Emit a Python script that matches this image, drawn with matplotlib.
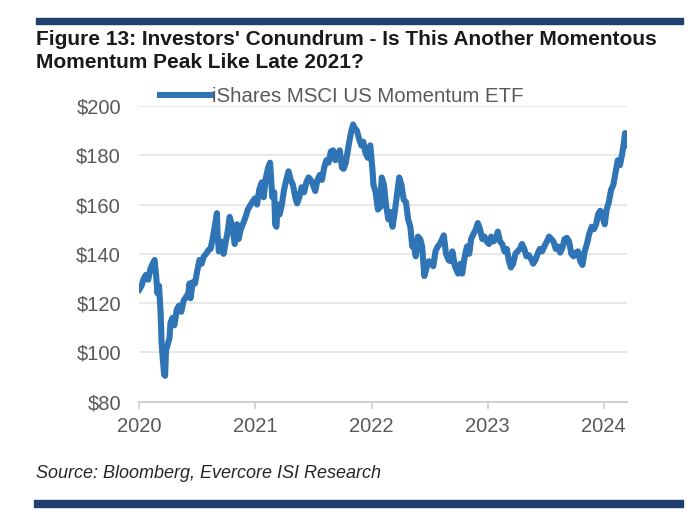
import matplotlib
matplotlib.use("Agg")
import matplotlib.pyplot as plt
from matplotlib.patches import Rectangle
import pandas as pd

plt.rcParams['font.family'] = ['Liberation Sans', 'DejaVu Sans']

title_lines = ["Figure 13: Investors' Conundrum - Is This Another Momentous",
               "Momentum Peak Like Late 2021?"]
series_name = "iShares MSCI US Momentum ETF"
source_text = "Source: Bloomberg, Evercore ISI Research"

dates = [
    # 2020
    "2020-01-02", "2020-01-09", "2020-01-16", "2020-01-23", "2020-01-30", "2020-02-06", "2020-02-13",
    "2020-02-19", "2020-02-24", "2020-02-28", "2020-03-04", "2020-03-09", "2020-03-12", "2020-03-16",
    "2020-03-20", "2020-03-23", "2020-03-26", "2020-03-31", "2020-04-06", "2020-04-09", "2020-04-15",
    "2020-04-21", "2020-04-29", "2020-05-06", "2020-05-13", "2020-05-20", "2020-05-28", "2020-06-04",
    "2020-06-08", "2020-06-11", "2020-06-18", "2020-06-25", "2020-07-02", "2020-07-09", "2020-07-16",
    "2020-07-23", "2020-07-30", "2020-08-06", "2020-08-13", "2020-08-20", "2020-08-27", "2020-09-02",
    "2020-09-04", "2020-09-08", "2020-09-15", "2020-09-23", "2020-09-30", "2020-10-07", "2020-10-12",
    "2020-10-20", "2020-10-28", "2020-11-04", "2020-11-09", "2020-11-16", "2020-11-24", "2020-12-01",
    "2020-12-08", "2020-12-15", "2020-12-22", "2020-12-30",
    # 2021
    "2021-01-06", "2021-01-13", "2021-01-21", "2021-01-27", "2021-02-03", "2021-02-10", "2021-02-16",
    "2021-02-23", "2021-03-01", "2021-03-04", "2021-03-08", "2021-03-12", "2021-03-18", "2021-03-25",
    "2021-04-01", "2021-04-08", "2021-04-15", "2021-04-22", "2021-04-29", "2021-05-06", "2021-05-12",
    "2021-05-19", "2021-05-26", "2021-06-03", "2021-06-10", "2021-06-17", "2021-06-24", "2021-07-01",
    "2021-07-08", "2021-07-15", "2021-07-22", "2021-07-29", "2021-08-05", "2021-08-12", "2021-08-19",
    "2021-08-26", "2021-09-02", "2021-09-09", "2021-09-16", "2021-09-23", "2021-09-30", "2021-10-05",
    "2021-10-12", "2021-10-21", "2021-10-28", "2021-11-04", "2021-11-09", "2021-11-16", "2021-11-22",
    "2021-11-30", "2021-12-06", "2021-12-13", "2021-12-20", "2021-12-28",
    # 2022
    "2022-01-04", "2022-01-07", "2022-01-14", "2022-01-21", "2022-01-28", "2022-02-02", "2022-02-09",
    "2022-02-15", "2022-02-23", "2022-03-01", "2022-03-08", "2022-03-15", "2022-03-22", "2022-03-29",
    "2022-04-05", "2022-04-12", "2022-04-19", "2022-04-26", "2022-05-03", "2022-05-09", "2022-05-13",
    "2022-05-20", "2022-05-27", "2022-06-03", "2022-06-09", "2022-06-16", "2022-06-22", "2022-06-30",
    "2022-07-07", "2022-07-14", "2022-07-21", "2022-07-28", "2022-08-04", "2022-08-11", "2022-08-16",
    "2022-08-23", "2022-08-31", "2022-09-07", "2022-09-12", "2022-09-20", "2022-09-30", "2022-10-07",
    "2022-10-13", "2022-10-21", "2022-10-28", "2022-11-04", "2022-11-10", "2022-11-17", "2022-11-25",
    "2022-12-01", "2022-12-08", "2022-12-15", "2022-12-22", "2022-12-29",
    # 2023
    "2023-01-05", "2023-01-12", "2023-01-19", "2023-01-26", "2023-02-02", "2023-02-09", "2023-02-16",
    "2023-02-23", "2023-03-02", "2023-03-09", "2023-03-15", "2023-03-22", "2023-03-29", "2023-04-05",
    "2023-04-12", "2023-04-19", "2023-04-26", "2023-05-03", "2023-05-10", "2023-05-17", "2023-05-24",
    "2023-05-31", "2023-06-07", "2023-06-14", "2023-06-21", "2023-06-28", "2023-07-06", "2023-07-13",
    "2023-07-20", "2023-07-27", "2023-08-03", "2023-08-10", "2023-08-17", "2023-08-24", "2023-08-31",
    "2023-09-07", "2023-09-14", "2023-09-21", "2023-09-28", "2023-10-05", "2023-10-12", "2023-10-19",
    "2023-10-26", "2023-11-02", "2023-11-09", "2023-11-16", "2023-11-24", "2023-12-01", "2023-12-08",
    "2023-12-14", "2023-12-21", "2023-12-28",
    # 2024
    "2024-01-04", "2024-01-10", "2024-01-17", "2024-01-24", "2024-01-31", "2024-02-07", "2024-02-14",
    "2024-02-21", "2024-02-27", "2024-03-04", "2024-03-08", "2024-03-12", "2024-03-14",
]

prices = [
    # 2020
    125.5, 127.0, 130.0, 131.5, 129.5, 134.0, 136.0,
    137.5, 131.0, 124.0, 127.0, 116.0, 104.0, 97.0,
    91.0, 90.5, 101.0, 103.0, 106.0, 112.0, 114.0,
    111.0, 117.5, 119.0, 116.5, 121.0, 122.5, 124.0,
    128.0, 122.0, 128.5, 128.0, 133.0, 137.5, 136.0,
    139.0, 140.0, 141.5, 142.0, 146.5, 152.0, 156.5,
    148.0, 141.0, 145.0, 140.0, 145.0, 150.0, 155.0,
    151.0, 144.0, 152.0, 146.0, 150.0, 152.5, 155.0,
    158.0, 159.5, 161.0, 162.5,
    # 2021
    160.0, 166.0, 169.0, 163.0, 171.0, 175.0, 177.0,
    163.0, 165.0, 152.0, 151.0, 160.0, 156.0, 160.0,
    166.0, 170.0, 173.5, 170.0, 168.0, 163.0, 160.5,
    163.0, 167.0, 165.0, 169.0, 171.0, 170.0, 168.0,
    165.5, 170.0, 172.0, 170.0, 175.0, 178.0, 177.0,
    181.5, 182.0, 178.0, 180.0, 182.0, 175.0, 174.5,
    177.0, 184.0, 189.0, 192.5, 191.0, 190.0, 187.0,
    184.0, 185.5, 181.0, 179.0, 184.0,
    # 2022
    174.0, 168.0, 165.0, 158.0, 159.0, 171.0, 168.0,
    160.0, 154.0, 157.0, 151.0, 157.0, 164.0, 171.0,
    168.0, 162.0, 161.0, 154.0, 151.0, 143.0, 144.0,
    139.0, 147.0, 146.0, 143.0, 131.0, 134.0, 137.0,
    136.0, 135.0, 141.0, 143.0, 144.0, 146.0, 147.5,
    140.0, 137.5, 137.0, 141.0, 135.0, 132.0, 136.0,
    132.0, 139.0, 143.0, 140.0, 146.0, 148.0, 150.0,
    152.5, 150.0, 146.0, 147.0, 145.0,
    # 2023
    144.0, 147.0, 145.0, 146.0, 149.0, 145.0, 144.0,
    141.0, 142.0, 137.0, 134.5, 136.0, 140.0, 141.0,
    142.0, 144.0, 142.0, 139.0, 139.5, 138.0, 136.0,
    137.5, 140.0, 142.0, 141.0, 143.0, 145.0, 147.0,
    146.0, 145.0, 142.0, 143.0, 140.5, 142.5, 146.0,
    146.5, 145.0, 140.0, 139.0, 140.5, 141.0, 137.0,
    135.5, 141.0, 144.0, 148.0, 151.0, 150.0, 152.0,
    156.0, 157.5, 155.0,
    # 2024
    152.0, 158.0, 161.0, 166.0, 168.0, 173.0, 178.0,
    176.0, 180.0, 185.0, 189.0, 186.0, 184.0,
]

year_ticks = [2020, 2021, 2022, 2023, 2024]
y_ticks = [80, 100, 120, 140, 160, 180, 200]

x = pd.to_datetime(dates)

fig = plt.figure(figsize=(7, 5.25), dpi=100)
ax = fig.add_axes([139 / 700, 1 - 401.7 / 525, (627 - 139) / 700, (401.7 - 106) / 525])

line_color = "#2f75b5"
ax.plot(x, prices, color=line_color, lw=4.4, solid_joinstyle="round", label=series_name)

ax.set_ylim(80, 200)
ax.set_xlim(pd.Timestamp("2020-01-01"), pd.Timestamp("2024-03-14"))
ax.set_yticks(y_ticks)
ax.set_yticklabels([f"${v}" for v in y_ticks])
ax.set_xticks([pd.Timestamp(f"{y}-01-01") for y in year_ticks])
ax.set_xticklabels([str(y) for y in year_ticks])

ax.grid(axis="y", color="#e4e4e4", lw=1.2)
ax.set_axisbelow(True)
for s in ["top", "right", "left"]:
    ax.spines[s].set_visible(False)
ax.spines["bottom"].set_color("#d0d0d0")
ax.spines["bottom"].set_linewidth(1.5)
ax.tick_params(axis="y", length=0, pad=13, labelsize=14.5, labelcolor="#595959")
ax.tick_params(axis="x", length=5, width=1.2, color="#d0d0d0", pad=6,
               labelsize=14.5, labelcolor="#595959")

fig.legend(loc="center left", bbox_to_anchor=(160 / 700, 1 - 97 / 525), frameon=False,
           handlelength=2.5, handletextpad=0.05, borderpad=0, borderaxespad=0,
           prop={"size": 14.7}, labelcolor="#595959")

# Title
fig.text(36 / 700, 1 - 45 / 525, title_lines[0], fontsize=15, fontweight="bold",
         color="#1a1a1a", va="baseline", ha="left")
fig.text(36 / 700, 1 - 68 / 525, title_lines[1], fontsize=15, fontweight="bold",
         color="#1a1a1a", va="baseline", ha="left")

# Source
fig.text(36 / 700, 1 - 478 / 525, source_text, fontsize=13, style="italic",
         color="#262626", va="baseline", ha="left")

# decorative bars
bar_color = "#1f3f6f"
fig.patches.append(Rectangle((36 / 700, 1 - 24 / 525), (683 - 36) / 700, 6.3 / 525,
                             transform=fig.transFigure, color=bar_color, zorder=5))
fig.patches.append(Rectangle((34 / 700, 1 - 506.7 / 525), (683 - 34) / 700, 6.7 / 525,
                             transform=fig.transFigure, color=bar_color, zorder=5))

fig.savefig("out.png", dpi=100)
